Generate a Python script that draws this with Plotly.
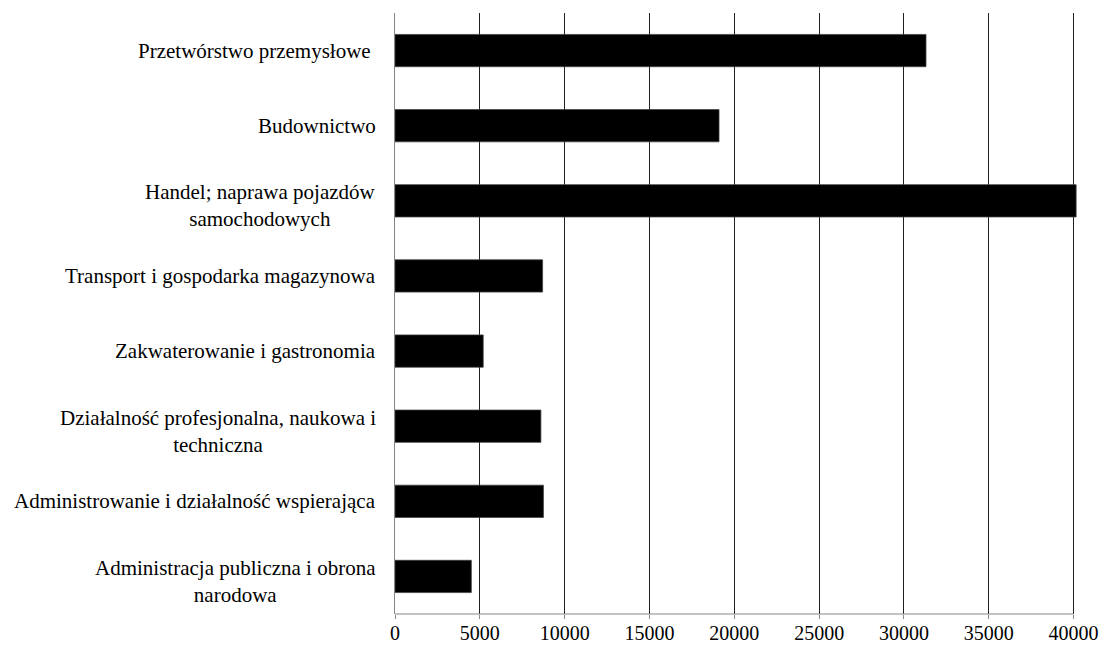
import plotly.graph_objects as go

categories = [
    "Przetwórstwo przemysłowe\u00a0",
    "Budownictwo",
    "Handel; naprawa pojazdów<br>samochodowych",
    "Transport i gospodarka magazynowa",
    "Zakwaterowanie i gastronomia",
    "Działalność profesjonalna, naukowa i<br>techniczna",
    "Administrowanie i działalność wspierająca",
    "Administracja publiczna i obrona<br>narodowa",
]
values = [31300, 19100, 40150, 8700, 5200, 8600, 8750, 4500]
x_ticks = [0, 5000, 10000, 15000, 20000, 25000, 30000, 35000, 40000]

FONT = "Liberation Serif, Times New Roman, serif"

fig = go.Figure()
fig.add_trace(go.Bar(
    y=list(range(len(categories))),
    x=values,
    orientation="h",
    width=0.43,
    marker=dict(color="#000000", line=dict(color="#404040", width=0.75)),
    hoverinfo="x",
))

annotations = []
for i, c in enumerate(categories):
    annotations.append(dict(
        x=0, xref="paper", y=i, yref="y",
        text=c, showarrow=False, xanchor="right", yanchor="middle",
        xshift=-17, yshift=(-5 if "<br>" in c else 0), align="center",
        font=dict(family=FONT, size=21, color="#000000"),
    ))

fig.update_layout(
    width=1103, height=646,
    margin=dict(l=395, r=26, t=13, b=32),
    paper_bgcolor="#ffffff", plot_bgcolor="#ffffff",
    showlegend=False,
    annotations=annotations,
    shapes=[dict(type="line", xref="x", yref="paper", x0=0, x1=40000, y0=0, y1=0,
                 line=dict(color="#868686", width=1))],
    font=dict(family=FONT, size=21, color="#000000"),
)
fig.update_xaxes(
    range=[0, 40200], tickvals=x_ticks, ticktext=[str(v) for v in x_ticks],
    showgrid=True, gridcolor="#202020", gridwidth=1,
    zeroline=False, showline=False, automargin=False,
    ticks="outside", ticklen=4, tickcolor="#868686",
    ticklabelstandoff=-3,
    tickfont=dict(family=FONT, size=20, color="#000000"),
)
fig.update_yaxes(
    range=[len(categories) - 0.5, -0.5], showticklabels=False, automargin=False,
    showgrid=False, zeroline=False, showline=True, linecolor="#868686", linewidth=1,
    ticks="",
)
# remove the browser's default 8px body margin so the figure fills the window
fig.write_html(
    "out.html",
    config={"displayModeBar": False},
    post_script="document.body.style.margin='0';document.body.style.overflow='hidden';",
)
